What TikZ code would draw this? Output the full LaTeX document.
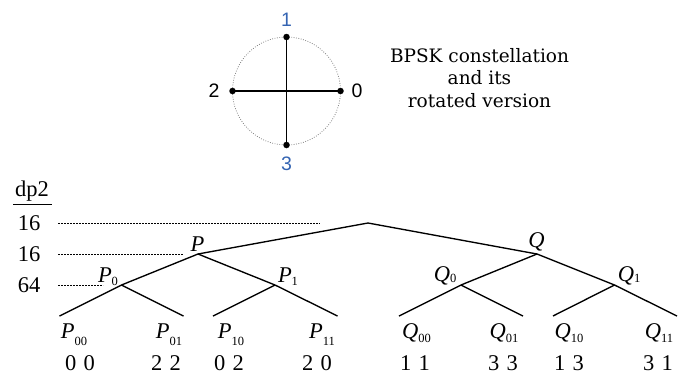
\documentclass[tikz,border=0pt]{standalone}
\usepackage{fontspec}
\setmainfont{Liberation Serif}
\newfontfamily\constsans{Liberation Sans}
\newfontfamily\capfont{DejaVu Serif}
\definecolor{lblblue}{RGB}{52,100,178}
\newcommand\treelab[3]{\textit{#1}\raisebox{#3}{\fontsize{12.5}{12.5}\selectfont #2}}
\newcommand\pairnum[2]{#1\hspace{0.33em}#2}
\begin{document}
\begin{tikzpicture}[x=1pt,y=-1pt,
  treeedge/.style={line width=1.35pt},
  guide/.style={line width=0.9pt,dash pattern=on 1.6pt off 1.4pt},
  axisline/.style={line width=1.7pt},
  cdot/.style={circle,fill=black,inner sep=0pt,minimum size=6.5pt},
  ring/.style={gray,line width=0.8pt,dash pattern=on 0.8pt off 1.6pt},
  clabel/.style={font=\constsans\fontsize{19.5}{19.5}\selectfont,inner sep=0pt},
  tlab/.style={font=\fontsize{22.5}{22.5}\selectfont,inner sep=0pt,anchor=base},
  caption/.style={font=\capfont\fontsize{18.5}{22.7}\selectfont,inner sep=0pt,align=center,anchor=north}]
\useasboundingbox (0,0) rectangle (689,376);
% constellation
\coordinate (cc) at (286.5,91);
\draw[ring] (cc) circle (54);
\node[cdot] (c0) at (340.5,91) {};
\node[cdot] (c1) at (286.5,37) {};
\node[cdot] (c2) at (232.5,91) {};
\node[cdot] (c3) at (286.5,145) {};
\draw[axisline] (c2.center) -- (c0.center);
\draw[axisline] (c1.center) -- (c3.center);
\node[clabel,text=lblblue] (l1) at (286.5,19.5) {1};
\node[clabel,text=lblblue] (l3) at (286.5,163.5) {3};
\node[clabel] (l2) at (214,91) {2};
\node[clabel] (l0) at (357,91) {0};
\node[caption] (cap) at (479.5,48) {BPSK constellation\\and its\\rotated version};
% dp2 column
\node[tlab] (dp) at (32,196) {dp2};
\draw[line width=1pt] (13,204) coordinate (ul1) -- (52,204) coordinate (ul2);
\node[tlab] (d1) at (29,230.5) {16};
\node[tlab] (d2) at (29,261.5) {16};
\node[tlab] (d3) at (29,292) {64};
\draw[guide] (58,223) coordinate (g1a) -- (320,223) coordinate (g1b);
\draw[guide] (58,254) coordinate (g2a) -- (183,254) coordinate (g2b);
\draw[guide] (58,285) coordinate (g3a) -- (103,285) coordinate (g3b);
% tree
\coordinate (root) at (368,223);
\coordinate (P) at (198,254);
\coordinate (Q) at (537,254);
\coordinate (P0) at (121.5,285);
\coordinate (P1) at (275,285);
\coordinate (Q0) at (461,285);
\coordinate (Q1) at (614.5,285);
\coordinate (P00) at (59.5,316);
\coordinate (P01) at (183.5,316);
\coordinate (P10) at (213,316);
\coordinate (P11) at (337.5,316);
\coordinate (Q00) at (399,316);
\coordinate (Q01) at (523,316);
\coordinate (Q10) at (553,316);
\coordinate (Q11) at (677,316);
\draw[treeedge] (P) -- (root) -- (Q);
\draw[treeedge] (P00) -- (P0) -- (P) -- (P1) -- (P11);
\draw[treeedge] (P0) -- (P01);
\draw[treeedge] (P1) -- (P10);
\draw[treeedge] (Q00) -- (Q0) -- (Q) -- (Q1) -- (Q11);
\draw[treeedge] (Q0) -- (Q01);
\draw[treeedge] (Q1) -- (Q10);
% labels
\node[tlab] (tP) at (197.5,251) {\textit{P}};
\node[tlab] (tQ) at (536.5,247) {\textit{Q}};
\node[tlab] (tP0) at (108,282) {\treelab{P}{0}{-3pt}};
\node[tlab] (tP1) at (288,282) {\treelab{P}{1}{-3pt}};
\node[tlab] (tQ0) at (445,281) {\treelab{Q}{0}{-1pt}};
\node[tlab] (tQ1) at (629,281) {\treelab{Q}{1}{-1pt}};
\node[tlab] (tP00) at (74,338) {\treelab{P}{00}{-7pt}};
\node[tlab] (tP01) at (169,338) {\treelab{P}{01}{-7pt}};
\node[tlab] (tP10) at (231,338) {\treelab{P}{10}{-7pt}};
\node[tlab] (tP11) at (322,338) {\treelab{P}{11}{-7pt}};
\node[tlab] (tQ00) at (416.5,338) {\treelab{Q}{00}{-4pt}};
\node[tlab] (tQ01) at (504,338) {\treelab{Q}{01}{-4pt}};
\node[tlab] (tQ10) at (569,338) {\treelab{Q}{10}{-4pt}};
\node[tlab] (tQ11) at (659,338) {\treelab{Q}{11}{-4pt}};
\node[tlab] (n00) at (80,370) {\pairnum{0}{0}};
\node[tlab] (n01) at (166,370) {\pairnum{2}{2}};
\node[tlab] (n10) at (229,370) {\pairnum{0}{2}};
\node[tlab] (n11) at (317,370) {\pairnum{2}{0}};
\node[tlab] (m00) at (415,370) {\pairnum{1}{1}};
\node[tlab] (m01) at (503,370) {\pairnum{3}{3}};
\node[tlab] (m10) at (569,370) {\pairnum{1}{3}};
\node[tlab] (m11) at (658,370) {\pairnum{3}{1}};
\end{tikzpicture}
\end{document}
